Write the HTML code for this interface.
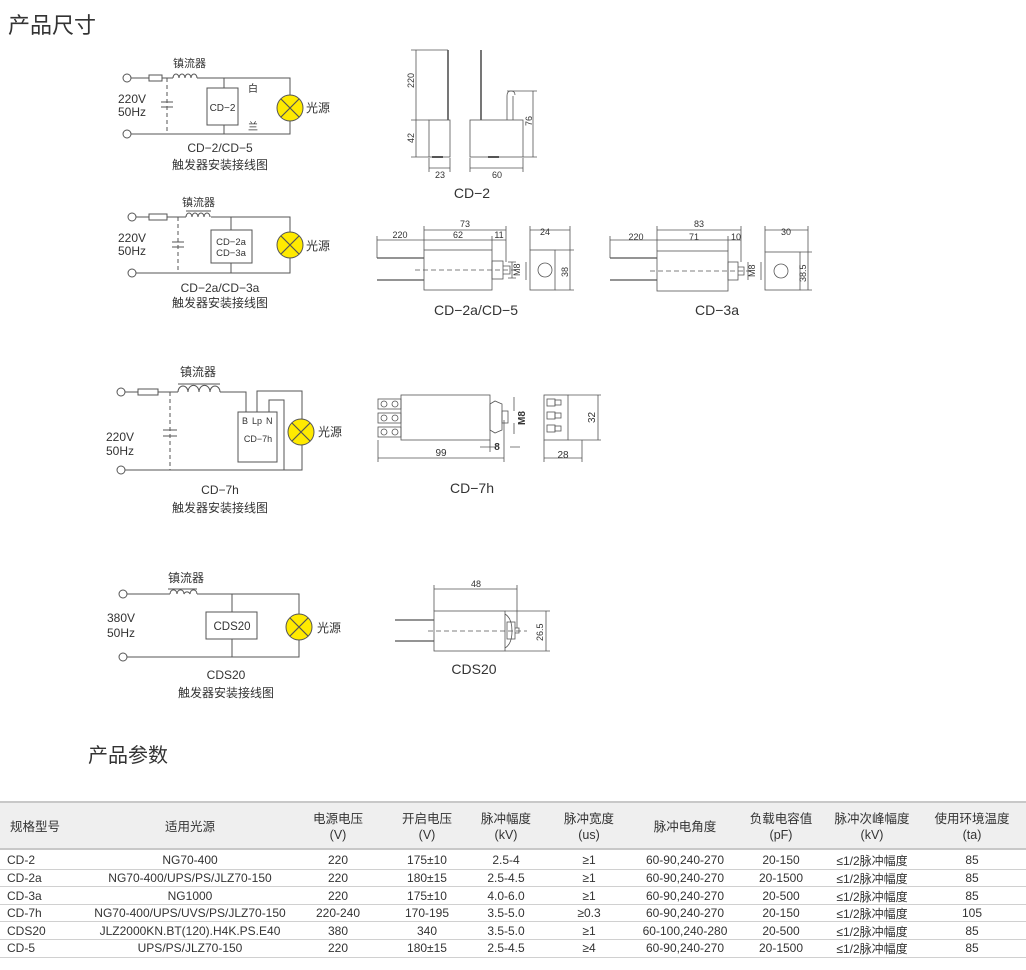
<!DOCTYPE html>
<html><head><meta charset="utf-8"><style>
body{margin:0;background:#fff;}
svg{display:block;}
text{font-family:"Liberation Sans","Noto Sans CJK SC",sans-serif;fill:#333;}
</style></head><body>
<svg width="1026" height="970" viewBox="0 0 1026 970" xmlns="http://www.w3.org/2000/svg">
<defs>
<g id="lamp"><circle r="13" fill="#ffea00" stroke="#555" stroke-width="1"/><path d="M-9 -9L9 9M9 -9L-9 9" stroke="#555" stroke-width="1.2"/></g>
</defs>
<text x="8" y="33" font-size="22" fill="#444">产品尺寸</text>

<g stroke="#555" stroke-width="1" fill="none">
<circle cx="127" cy="78" r="4" fill="#fff"/><circle cx="127" cy="134" r="4" fill="#fff"/>
<path d="M131 78H149M162 78H173M197 78H290V95M290 121V134H131M224 78V88M224 125V134"/>
<rect x="149" y="75" width="13" height="6"/>
<path d="M173 78a3 4 0 0 1 6 0a3 4 0 0 1 6 0a3 4 0 0 1 6 0a3 4 0 0 1 6 0"/>
<path d="M167 78V134" stroke-dasharray="4,3"/>
<path d="M161 102H173M161 107H173" fill="none"/>
<rect x="207" y="88" width="31" height="37"/>
</g>
<use href="#lamp" x="290" y="108"/>
<text x="173" y="67" font-size="11">镇流器</text>
<text x="248" y="92" font-size="10">白</text>
<text x="248" y="130" font-size="10">兰</text>
<text x="222.5" y="111" font-size="10" text-anchor="middle">CD−2</text>
<text x="306" y="112" font-size="12">光源</text>
<text x="118" y="103" font-size="12">220V</text>
<text x="118" y="116" font-size="12">50Hz</text>
<text x="220" y="152" font-size="12" text-anchor="middle">CD−2/CD−5</text>
<text x="220" y="169" font-size="12" text-anchor="middle">触发器安装接线图</text>

<g stroke="#555" stroke-width="1" fill="none">
<circle cx="132" cy="217" r="4" fill="#fff"/><circle cx="132" cy="273" r="4" fill="#fff"/>
<path d="M136 217H149M167 217H186M211 217H290V232M290 258V273H136M231 217V230M231 263V273"/>
<rect x="149" y="214" width="18" height="6"/>
<path d="M186 217a3 4 0 0 1 6 0a3 4 0 0 1 6 0a3 4 0 0 1 6 0a3 4 0 0 1 6 0M186 211H211"/>
<path d="M178 217V273" stroke-dasharray="4,3"/>
<path d="M172 242H184M172 247H184"/>
<rect x="211" y="230" width="41" height="33"/>
</g>
<use href="#lamp" x="290" y="245"/>
<text x="182" y="206" font-size="11">镇流器</text>
<text x="231" y="245" font-size="9.5" text-anchor="middle">CD−2a</text>
<text x="231" y="256" font-size="9.5" text-anchor="middle">CD−3a</text>
<text x="306" y="250" font-size="12">光源</text>
<text x="118" y="242" font-size="12">220V</text>
<text x="118" y="255" font-size="12">50Hz</text>
<text x="220" y="292" font-size="12" text-anchor="middle">CD−2a/CD−3a</text>
<text x="220" y="307" font-size="12" text-anchor="middle">触发器安装接线图</text>

<g stroke="#555" stroke-width="1" fill="none">
<circle cx="121" cy="392" r="4" fill="#fff"/><circle cx="121" cy="470" r="4" fill="#fff"/>
<path d="M125 392H138M158 392H178M220 392H246V412M257 412V391H302V419M302 445V470H125M269 412V400H284V470"/>
<rect x="138" y="389" width="20" height="6"/>
<path d="M178 392a5 6 0 0 1 10 0a5 6 0 0 1 11 0a5 6 0 0 1 11 0a5 6 0 0 1 10 0M178 384H220"/>
<path d="M170 392V470" stroke-dasharray="4,3"/>
<path d="M163 430H177M163 436H177"/>
<rect x="238" y="412" width="39" height="50" fill="#fff"/>
<path d="M269 412V400H284V470"/>
</g>
<use href="#lamp" x="301" y="432"/>
<text x="180" y="376" font-size="12">镇流器</text>
<text x="242" y="424" font-size="9">B</text><text x="252" y="424" font-size="9">Lp</text><text x="266" y="424" font-size="9">N</text>
<text x="258" y="442" font-size="9" text-anchor="middle">CD−7h</text>
<text x="318" y="436" font-size="12">光源</text>
<text x="106" y="441" font-size="12">220V</text>
<text x="106" y="455" font-size="12">50Hz</text>
<text x="220" y="494" font-size="12" text-anchor="middle">CD−7h</text>
<text x="220" y="512" font-size="12" text-anchor="middle">触发器安装接线图</text>

<g stroke="#555" stroke-width="1" fill="none">
<circle cx="123" cy="594" r="4" fill="#fff"/><circle cx="123" cy="657" r="4" fill="#fff"/>
<path d="M127 594H170M197 594H299V614M299 640V657H127M232 594V612M232 639V657"/>
<path d="M170 594a3.4 4 0 0 1 7 0a3.4 4 0 0 1 7 0a3.4 4 0 0 1 6 0a3.4 4 0 0 1 7 0M168 589H197"/>
<rect x="206" y="612" width="51" height="27"/>
</g>
<use href="#lamp" x="299" y="627"/>
<text x="168" y="582" font-size="12">镇流器</text>
<text x="232" y="630" font-size="11.5" text-anchor="middle">CDS20</text>
<text x="317" y="632" font-size="12">光源</text>
<text x="107" y="622" font-size="12">380V</text>
<text x="107" y="637" font-size="12">50Hz</text>
<text x="226" y="679" font-size="12" text-anchor="middle">CDS20</text>
<text x="226" y="697" font-size="12" text-anchor="middle">触发器安装接线图</text>

<g stroke="#555" stroke-width="0.8" fill="none">
<rect x="429" y="120" width="21" height="37"/>
<path d="M448 50V120M481 50V120" stroke-width="1.6"/>
<rect x="470" y="120" width="53" height="37"/>
<path d="M507 120V96q0-5 4-5q4 0 4 4M513 120V96"/>
<path d="M416 50V157M411 50H448M411 120H429M411 157H429M533 91V157M507 91H537M523 157H537M429 158V172M450 158V172M429 168H450M470 158V172M523 158V172M470 168H523"/>
<path d="M432 157H443M488 157H499" stroke-width="2"/>
</g>
<text x="0" y="0" font-size="9" transform="translate(414,88) rotate(-90)">220</text>
<text x="0" y="0" font-size="9" transform="translate(414,143) rotate(-90)">42</text>
<text x="0" y="0" font-size="9" transform="translate(532,126) rotate(-90)">76</text>
<text x="440" y="178" font-size="9" text-anchor="middle">23</text>
<text x="497" y="178" font-size="9" text-anchor="middle">60</text>
<text x="472" y="198" font-size="14" text-anchor="middle">CD−2</text>

<g stroke="#555" stroke-width="0.8" fill="none">
<rect x="424" y="250" width="68" height="40"/>
<rect x="492" y="261" width="11" height="18"/>
<path d="M503 266H510V274H503"/>
<path d="M377 258H424M377 280H424" stroke-width="1.3"/>
<path d="M415 270H520" stroke-dasharray="5,3"/>
<path d="M424 226V250M506 226V262M492 236V250M377 236V258M424 230H506M377 240H492M492 240H506M512 262V278M508 262H516M508 278H516"/>
<rect x="530" y="250" width="25" height="40"/>
<circle cx="545" cy="270" r="7"/>
<path d="M530 226V250M570 226V290M530 230H570M555 250H574M555 290H574M526 262V280"/>
</g>
<text x="465" y="227" font-size="9" text-anchor="middle">73</text>
<text x="400" y="238" font-size="9" text-anchor="middle">220</text>
<text x="458" y="238" font-size="9" text-anchor="middle">62</text>
<text x="499" y="238" font-size="9" text-anchor="middle">11</text>
<text x="545" y="235" font-size="9" text-anchor="middle">24</text>
<text x="0" y="0" font-size="9" transform="translate(520,276) rotate(-90)">M8</text>
<text x="0" y="0" font-size="9" transform="translate(568,277) rotate(-90)">38</text>
<text x="476" y="315" font-size="14" text-anchor="middle">CD−2a/CD−5</text>

<g stroke="#555" stroke-width="0.8" fill="none">
<rect x="657" y="251" width="71" height="40"/>
<rect x="728" y="262" width="10" height="18"/>
<path d="M738 267H744V275H738"/>
<path d="M610 258H657M610 280H657" stroke-width="1.3"/>
<path d="M650 271H754" stroke-dasharray="5,3"/>
<path d="M657 226V251M741 226V262M728 236V251M610 236V258M657 230H741M610 240H741M748 262V280"/>
<rect x="765" y="252" width="35" height="38"/>
<circle cx="781" cy="271" r="7"/>
<path d="M765 226V252M808 226V290M765 230H808M800 252H812M800 290H812M761 262V280"/>
</g>
<text x="699" y="227" font-size="9" text-anchor="middle">83</text>
<text x="636" y="240" font-size="9" text-anchor="middle">220</text>
<text x="694" y="240" font-size="9" text-anchor="middle">71</text>
<text x="736" y="240" font-size="9" text-anchor="middle">10</text>
<text x="786" y="235" font-size="9" text-anchor="middle">30</text>
<text x="0" y="0" font-size="9" transform="translate(755,277) rotate(-90)">M8</text>
<text x="0" y="0" font-size="9" transform="translate(806,282) rotate(-90)">38.5</text>
<text x="717" y="315" font-size="14" text-anchor="middle">CD−3a</text>

<g stroke="#555" stroke-width="0.8" fill="none">
<rect x="401" y="395" width="89" height="45"/>
<rect x="378" y="399" width="23" height="10"/><rect x="378" y="413" width="23" height="10"/><rect x="378" y="427" width="23" height="10"/>
<circle cx="384" cy="404" r="3"/><circle cx="395" cy="404" r="3"/><circle cx="384" cy="418" r="3"/><circle cx="395" cy="418" r="3"/><circle cx="384" cy="432" r="3"/><circle cx="395" cy="432" r="3"/>
<path d="M490 404L495 401L502 404V430L495 433L490 430Z"/>
<rect x="502" y="411" width="6" height="12"/>
<path d="M378 440V462M504 420V462M378 458H504M490 440V452M480 447H495M510 447H520M514 397V411M514 423V434"/>
<rect x="544" y="395" width="24" height="45"/>
<rect x="547" y="399" width="8" height="7"/><rect x="547" y="412" width="8" height="7"/><rect x="547" y="425" width="8" height="7"/>
<rect x="555" y="400" width="6" height="5"/><rect x="555" y="413" width="6" height="5"/><rect x="555" y="426" width="6" height="5"/>
<path d="M568 395H601M568 440H601M598 395V440M544 440V462M582 440V462M544 458H582"/>
</g>
<text x="441" y="456" font-size="10" text-anchor="middle">99</text>
<text x="497" y="450" font-size="10" font-weight="bold" text-anchor="middle">8</text>
<text x="0" y="0" font-size="10" font-weight="bold" transform="translate(525,425) rotate(-90)">M8</text>
<text x="0" y="0" font-size="10" transform="translate(595,423) rotate(-90)">32</text>
<text x="563" y="458" font-size="10" text-anchor="middle">28</text>
<text x="472" y="493" font-size="14" text-anchor="middle">CD−7h</text>

<g stroke="#555" stroke-width="0.8" fill="none">
<rect x="434" y="611" width="71" height="40"/>
<path d="M505 614Q512 618 512 631Q512 644 505 648"/>
<rect x="507" y="622" width="8" height="17"/>
<path d="M515 628H519V633H515"/>
<path d="M395 620H434M395 641H434" stroke-width="1.3"/>
<path d="M428 631H527" stroke-dasharray="5,3"/>
<path d="M434 585V611M517 585V628M434 589H517M505 611H550M505 651H550M546 611V651"/>
</g>
<text x="476" y="587" font-size="9" text-anchor="middle">48</text>
<text x="0" y="0" font-size="9" transform="translate(543,641) rotate(-90)">26.5</text>
<text x="474" y="674" font-size="14" text-anchor="middle">CDS20</text>

<text x="88" y="762" font-size="20" fill="#444">产品参数</text>
<rect x="0" y="803" width="1026" height="45" fill="#efefef"/>
<rect x="0" y="801" width="1026" height="2" fill="#c8c8c8"/>
<rect x="0" y="848" width="1026" height="2" fill="#c8c8c8"/>
<g fill="#d0d0d0">
<rect x="0" y="869" width="1026" height="1"/><rect x="0" y="886" width="1026" height="1"/><rect x="0" y="904" width="1026" height="1"/><rect x="0" y="921" width="1026" height="1"/><rect x="0" y="939" width="1026" height="1"/><rect x="0" y="957" width="1026" height="1"/>
</g>
<g font-size="12.5" text-anchor="middle">
<text x="35" y="831">规格型号</text>
<text x="190" y="831">适用光源</text>
<text x="338" y="823">电源电压</text><text x="338" y="839">(V)</text>
<text x="427" y="823">开启电压</text><text x="427" y="839">(V)</text>
<text x="506" y="823">脉冲幅度</text><text x="506" y="839">(kV)</text>
<text x="589" y="823">脉冲宽度</text><text x="589" y="839">(us)</text>
<text x="685" y="831">脉冲电角度</text>
<text x="781" y="823">负载电容值</text><text x="781" y="839">(pF)</text>
<text x="872" y="823">脉冲次峰幅度</text><text x="872" y="839">(kV)</text>
<text x="972" y="823">使用环境温度</text><text x="972" y="839">(ta)</text>
</g>
<g font-size="12" text-anchor="middle">
<text x="7" y="864" text-anchor="start">CD-2</text><text x="190" y="864">NG70-400</text><text x="338" y="864">220</text><text x="427" y="864">175±10</text><text x="506" y="864">2.5-4</text><text x="589" y="864">≥1</text><text x="685" y="864">60-90,240-270</text><text x="781" y="864">20-150</text><text x="872" y="865">≤1/2脉冲幅度</text><text x="972" y="864">85</text>
<text x="7" y="882" text-anchor="start">CD-2a</text><text x="190" y="882">NG70-400/UPS/PS/JLZ70-150</text><text x="338" y="882">220</text><text x="427" y="882">180±15</text><text x="506" y="882">2.5-4.5</text><text x="589" y="882">≥1</text><text x="685" y="882">60-90,240-270</text><text x="781" y="882">20-1500</text><text x="872" y="883">≤1/2脉冲幅度</text><text x="972" y="882">85</text>
<text x="7" y="900" text-anchor="start">CD-3a</text><text x="190" y="900">NG1000</text><text x="338" y="900">220</text><text x="427" y="900">175±10</text><text x="506" y="900">4.0-6.0</text><text x="589" y="900">≥1</text><text x="685" y="900">60-90,240-270</text><text x="781" y="900">20-500</text><text x="872" y="901">≤1/2脉冲幅度</text><text x="972" y="900">85</text>
<text x="7" y="917" text-anchor="start">CD-7h</text><text x="190" y="917">NG70-400/UPS/UVS/PS/JLZ70-150</text><text x="338" y="917">220-240</text><text x="427" y="917">170-195</text><text x="506" y="917">3.5-5.0</text><text x="589" y="917">≥0.3</text><text x="685" y="917">60-90,240-270</text><text x="781" y="917">20-150</text><text x="872" y="918">≤1/2脉冲幅度</text><text x="972" y="917">105</text>
<text x="7" y="935" text-anchor="start">CDS20</text><text x="190" y="935">JLZ2000KN.BT(120).H4K.PS.E40</text><text x="338" y="935">380</text><text x="427" y="935">340</text><text x="506" y="935">3.5-5.0</text><text x="589" y="935">≥1</text><text x="685" y="935">60-100,240-280</text><text x="781" y="935">20-500</text><text x="872" y="936">≤1/2脉冲幅度</text><text x="972" y="935">85</text>
<text x="7" y="952" text-anchor="start">CD-5</text><text x="190" y="952">UPS/PS/JLZ70-150</text><text x="338" y="952">220</text><text x="427" y="952">180±15</text><text x="506" y="952">2.5-4.5</text><text x="589" y="952">≥4</text><text x="685" y="952">60-90,240-270</text><text x="781" y="952">20-1500</text><text x="872" y="953">≤1/2脉冲幅度</text><text x="972" y="952">85</text>
</g>
</svg>
</body></html>
